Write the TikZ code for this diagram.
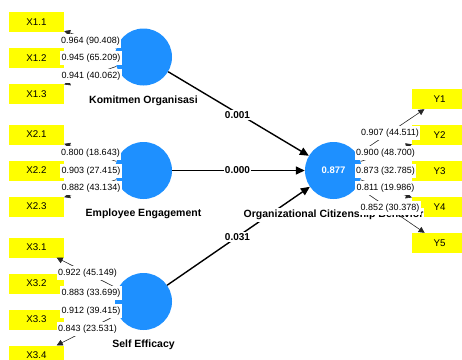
\documentclass[tikz,border=0pt]{standalone}
\usepackage{fontspec}
\setmainfont{Liberation Sans}
\usetikzlibrary{arrows.meta}
\definecolor{indyellow}{RGB}{255,255,0}
\definecolor{lvblue}{RGB}{30,144,255}
\tikzset{
  ind/.style={rectangle, fill=indyellow, minimum width=55pt, minimum height=20pt, inner sep=0pt, font=\fontsize{9.75}{11}\selectfont},
  lv/.style={circle, fill=lvblue, minimum size=57pt, inner sep=0pt, text=white, font=\bfseries\fontsize{9.5}{11}\selectfont},
  lvname/.style={fill=white, inner xsep=1pt, inner ysep=2pt, font=\bfseries\fontsize{10.5}{12}\selectfont},
  load/.style={fill=white, inner xsep=1.5pt, inner ysep=3pt, font=\fontsize{9}{10}\selectfont},
  coef/.style={fill=white, inner sep=1pt, font=\bfseries\fontsize{10}{12}\selectfont},
  outerarrow/.style={draw=black!85, line width=0.6pt, -{Triangle[length=6pt,width=6pt]}},
  innerarrow/.style={draw=black, line width=1.4pt, -{Triangle[length=9pt,width=8pt]}}
}
\begin{document}
\begin{tikzpicture}[x=1pt,y=-1pt]
\useasboundingbox (0,0) rectangle (462,359);
\clip (0,0) rectangle (462,359);
% indicators
\node[ind] (x11) at (36.5,22) {X1.1};
\node[ind] (x12) at (36.5,58) {X1.2};
\node[ind] (x13) at (36.5,94) {X1.3};
\node[ind] (x21) at (36.5,134.5) {X2.1};
\node[ind] (x22) at (36.5,170.5) {X2.2};
\node[ind] (x23) at (36.5,206.5) {X2.3};
\node[ind] (x31) at (36.5,247.5) {X3.1};
\node[ind] (x32) at (36.5,283.5) {X3.2};
\node[ind] (x33) at (36.5,319.5) {X3.3};
\node[ind] (x34) at (36.5,355.5) {X3.4};
\node[ind] (y1) at (439.5,99) {Y1};
\node[ind] (y2) at (439.5,135) {Y2};
\node[ind] (y3) at (439.5,171) {Y3};
\node[ind] (y4) at (439.5,207) {Y4};
\node[ind] (y5) at (439.5,243) {Y5};
% latent variables
\node[lv] (ko) at (143.5,57) {};
\node[lv] (ee) at (143.5,170.5) {};
\node[lv] (se) at (143.5,301.5) {};
\node[lv] (ocb) at (333.5,170.5) {0.877};
% structural paths
\draw[innerarrow] (ko) -- (ocb);
\draw[innerarrow] (ee) -- (ocb);
\draw[innerarrow] (se) -- (ocb);
\node[coef] (c1) at (237.5,115) {0.001};
\node[coef] (c2) at (237.5,170.5) {0.000};
\node[coef] (c3) at (237.5,237) {0.031};
% latent names
\node[lvname] (nko) at (143.5,101) {Komitmen Organisasi};
\node[lvname] (nee) at (143.5,214) {Employee Engagement};
\node[lvname] (nse) at (143.5,345) {Self Efficacy};
\node[lvname] (nocb) at (333.5,215) {Organizational Citizenship Behavior};
% outer paths
\draw[outerarrow] (ko) -- (x11);
\draw[outerarrow] (ko) -- (x12);
\draw[outerarrow] (ko) -- (x13);
\draw[outerarrow] (ee) -- (x21);
\draw[outerarrow] (ee) -- (x22);
\draw[outerarrow] (ee) -- (x23);
\draw[outerarrow] (se) -- (x31);
\draw[outerarrow] (se) -- (x32);
\draw[outerarrow] (se) -- (x33);
\draw[outerarrow] (se) -- (x34);
\draw[outerarrow] (ocb) -- (y1);
\draw[outerarrow] (ocb) -- (y2);
\draw[outerarrow] (ocb) -- (y3);
\draw[outerarrow] (ocb) -- (y4);
\draw[outerarrow] (ocb) -- (y5);
% loadings
\node[load] (l11) at (90.5,41) {0.964 (90.408)};
\node[load] (l12) at (91,58) {0.945 (65.209)};
\node[load] (l13) at (91,76) {0.941 (40.062)};
\node[load] (l21) at (90.5,153) {0.800 (18.643)};
\node[load] (l22) at (91,171) {0.903 (27.415)};
\node[load] (l23) at (91,188) {0.882 (43.134)};
\node[load] (l31) at (87.5,273) {0.922 (45.149)};
\node[load] (l32) at (91,293) {0.883 (33.699)};
\node[load] (l33) at (91,311) {0.912 (39.415)};
\node[load] (l34) at (87.5,329) {0.843 (23.531)};
\node[load] (m1) at (390,133) {0.907 (44.511)};
\node[load] (m2) at (385.5,153) {0.900 (48.700)};
\node[load] (m3) at (385.5,171) {0.873 (32.785)};
\node[load] (m4) at (385.5,188) {0.811 (19.986)};
\node[load] (m5) at (390,208) {0.852 (30.378)};
\end{tikzpicture}
\end{document}
